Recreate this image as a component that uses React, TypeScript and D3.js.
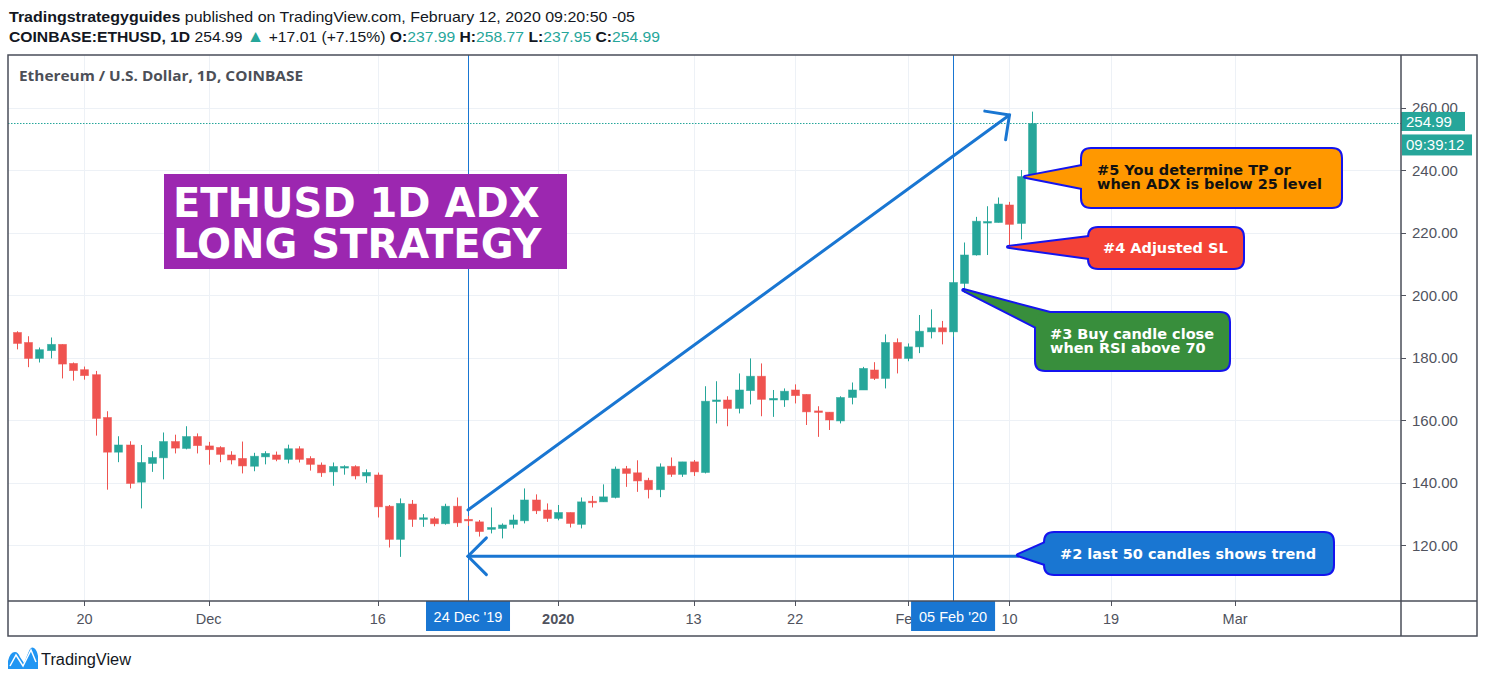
import React from "react";
import * as d3 from "d3";

// ---------------- data ----------------
const firstCandleDate = new Date(Date.UTC(2019, 10, 14));

const openPrices = [
  188.1, 184.9, 179.8, 182.3, 184.3, 178.2, 176.2, 174.6, 160.9, 149.8,
  152.1, 140.2, 146.2, 148.0, 153.2, 151.0, 154.8, 151.8, 151.3, 148.9,
  147.8, 145.3, 148.3, 148.9, 147.5, 150.9, 147.8, 145.7, 143.5, 144.9,
  145.2, 142.2, 142.5, 132.5, 121.9, 133.2, 128.3, 128.5, 126.9, 132.5,
  128.3, 127.5, 125.1, 125.4, 126.7, 127.85, 134.5, 131.3, 128.6, 130.5,
  126.7, 134.1, 133.9, 135.3, 144.5, 143.2, 140.8, 137.8, 145.3, 142.7,
  146.7, 143.3, 166.1, 166.5, 163.8, 169.5, 174.1, 166.5, 166.5, 169.7,
  168.3, 163.0, 162.6, 159.8, 167.3, 169.7, 176.1, 173.4, 184.9, 179.8,
  183.5, 188.3, 189.6, 188.3, 203.8, 212.9, 223.3, 223.3, 228.9, 223.0,
  237.99,
];
const highPrices = [
  188.5, 186.9, 183.3, 186.5, 184.3, 178.5, 177.2, 175.8, 162.9, 154.9,
  153.3, 152.1, 150.1, 156.1, 155.4, 158.1, 155.8, 153.1, 151.7, 150.1,
  153.2, 149.6, 150.1, 150.0, 152.2, 151.7, 148.5, 146.5, 146.5, 145.6,
  145.6, 144.3, 143.3, 132.9, 135.0, 134.5, 130.0, 129.1, 133.3, 135.3,
  129.4, 128.1, 132.1, 127.0, 129.8, 138.2, 136.3, 133.4, 132.9, 130.5,
  135.3, 135.8, 139.5, 145.2, 145.4, 147.2, 141.6, 146.2, 148.1, 146.7,
  147.3, 170.9, 172.5, 167.7, 175.0, 179.8, 178.2, 169.7, 170.2, 171.5,
  168.3, 164.5, 162.6, 167.7, 172.1, 177.1, 178.6, 187.5, 186.2, 184.6,
  193.7, 195.5, 191.8, 208.1, 216.9, 225.1, 228.5, 231.3, 229.9, 240.1,
  258.77,
];
const lowPrices = [
  182.7, 177.0, 178.5, 179.8, 173.4, 172.7, 173.0, 155.1, 137.8, 146.6,
  138.2, 131.8, 143.5, 141.1, 149.4, 150.7, 149.4, 145.8, 146.6, 145.9,
  143.0, 143.7, 145.9, 146.9, 146.2, 146.5, 143.9, 141.9, 139.05, 142.6,
  141.1, 140.0, 128.9, 119.3, 116.3, 125.9, 125.9, 126.1, 126.6, 125.9,
  126.2, 122.8, 123.8, 122.2, 125.4, 127.0, 130.0, 127.5, 128.0, 125.7,
  125.4, 132.1, 133.9, 135.0, 138.7, 137.1, 135.0, 135.4, 141.9, 141.9,
  142.2, 143.0, 159.0, 158.1, 162.2, 165.1, 161.3, 161.1, 164.3, 165.4,
  158.5, 154.7, 156.9, 159.0, 165.1, 169.7, 172.9, 170.2, 175.0, 178.9,
  181.5, 186.2, 184.3, 186.7, 200.8, 212.7, 212.9, 223.3, 216.1, 217.9,
  237.95,
];
const closePrices = [
  184.6, 179.8, 182.6, 184.3, 178.0, 175.9, 174.3, 160.6, 149.8, 152.1,
  139.8, 146.5, 148.1, 153.2, 151.1, 154.8, 151.9, 150.6, 149.1, 147.3,
  145.4, 148.5, 149.4, 147.5, 150.9, 147.5, 145.9, 143.2, 145.2, 145.2,
  142.2, 143.3, 132.3, 121.9, 133.4, 128.3, 128.8, 126.9, 132.5, 127.2,
  127.9, 124.4, 125.7, 126.5, 128.1, 134.5, 131.05, 128.6, 130.5, 127.0,
  133.9, 133.9, 135.5, 144.4, 143.0, 140.6, 137.8, 145.1, 142.7, 146.7,
  143.5, 166.1, 166.5, 163.8, 169.7, 174.1, 166.7, 167.0, 169.3, 167.9,
  162.7, 162.6, 160.1, 167.3, 169.7, 176.6, 173.4, 184.9, 179.8, 183.5,
  188.5, 189.6, 188.3, 204.1, 212.9, 223.7, 223.6, 229.2, 222.7, 237.98,
  254.99,
];

const priceTicks = [120, 140, 160, 180, 200, 220, 240, 260];
const timeTickDates = [
  Date.UTC(2019, 10, 20), Date.UTC(2019, 11, 1), Date.UTC(2019, 11, 16),
  Date.UTC(2020, 0, 1), Date.UTC(2020, 0, 13), Date.UTC(2020, 0, 22),
  Date.UTC(2020, 1, 1), Date.UTC(2020, 1, 10), Date.UTC(2020, 1, 19),
  Date.UTC(2020, 2, 1),
];
const timeTickLabels = ["20", "Dec", "16", "2020", "13", "22", "Feb", "10", "19", "Mar"];
const markerDates = [Date.UTC(2019, 11, 24), Date.UTC(2020, 1, 5)];
const markerLabels = ["24 Dec '19", "05 Feb '20"];
const lastPrice = 254.99;
const countdownLabel = "09:39:12";

// annotation anchors (date, price)
const trendArrowFrom: [number, number] = [Date.UTC(2019, 11, 24), 131.3];
const trendArrowTo: [number, number] = [Date.UTC(2020, 1, 10), 257.7];
const backArrowFrom: [number, number] = [Date.UTC(2020, 1, 10, 18), 116.5];
const backArrowTo: [number, number] = [Date.UTC(2019, 11, 24), 116.5];

const calloutTexts = [
  ["#5 You determine TP or", "when ADX is below 25 level"],
  ["#4 Adjusted SL"],
  ["#3 Buy candle close", "when RSI above 70"],
  ["#2 last 50 candles shows trend"],
];
const calloutTips: [number, number][] = [
  [Date.UTC(2020, 1, 11, 9), 237.9],
  [Date.UTC(2020, 1, 9, 21), 215.5],
  [Date.UTC(2020, 1, 5, 22), 201.7],
  [Date.UTC(2020, 1, 10, 18), 116.9],
];
const calloutFills = ["#ff9800", "#f44336", "#388e3c", "#1976d2"];
const calloutTextColors = ["#111111", "#ffffff", "#ffffff", "#ffffff"];

// ---------------- layout ----------------
const W = 1485;
const H = 682;
const PANE = { left: 8, right: 1401, top: 55, bottom: 601 };
const FRAME = { right: 1477, bottom: 636 };
const UP = "#26a69a";
const DOWN = "#ef5350";
const GRID = "#edf1f6";
const FRAME_C = "#4a4e59";
const AXIS_TXT = "#50535e";
const BLUE = "#1976d2";

const calloutLayout = [
  { box: [1082, 149, 259, 58], base: [[1082, 166], [1082, 188]], tx: 1097, ty: [175, 189.3] },
  { box: [1089, 228, 154, 40], base: [[1089, 237], [1089, 258]], tx: 1103, ty: [252.7] },
  { box: [1036, 313, 193, 57], base: [[1050, 313], [1036, 327]], tx: 1050, ty: [339.3, 353.3] },
  { box: [1045, 533, 288, 41], base: [[1045, 543], [1045, 564]], tx: 1060, ty: [559] },
];

function arms(tip: [number, number], from: [number, number], len: number, deg: number) {
  const dx = from[0] - tip[0];
  const dy = from[1] - tip[1];
  const n = Math.hypot(dx, dy);
  const ux = dx / n, uy = dy / n;
  const a = (deg * Math.PI) / 180;
  const r = (s: number) => [
    tip[0] + len * (ux * Math.cos(s * a) - uy * Math.sin(s * a)),
    tip[1] + len * (ux * Math.sin(s * a) + uy * Math.cos(s * a)),
  ];
  return [r(1), r(-1)];
}

function roundRect(x: number, y: number, w: number, h: number, r: number) {
  return `M${x + r},${y}H${x + w - r}Q${x + w},${y} ${x + w},${y + r}V${y + h - r}Q${x + w},${y + h} ${x + w - r},${y + h}H${x + r}Q${x},${y + h} ${x},${y + h - r}V${y + r}Q${x},${y} ${x + r},${y}Z`;
}

export default function App() {
  const x = d3
    .scaleUtc()
    .domain([new Date(Date.UTC(2019, 10, 13, 5, 17)), new Date(Date.UTC(2020, 2, 15, 14, 53))])
    .range([PANE.left, PANE.right - 1]);
  const y = d3.scaleLinear().domain([120, 260]).range([545.3, 107.8]);

  const candles = openPrices.map((o, i) => ({
    date: d3.utcDay.offset(firstCandleDate, i),
    o,
    h: highPrices[i],
    l: lowPrices[i],
    c: closePrices[i],
  }));

  const pt = (d: [number, number]): [number, number] => [x(new Date(d[0])), y(d[1])];

  const tA = pt(trendArrowFrom);
  const tB = pt(trendArrowTo);
  const trendArms = arms(tB, tA, 25, 45);
  const bA = pt(backArrowFrom);
  const bB = pt(backArrowTo);
  const backArms = arms(bB, bA, 26, 45);

  const yLast = y(lastPrice);
  const font = "'Liberation Sans', Arial, sans-serif";
  const bold = "'DejaVu Sans', Verdana, sans-serif";

  return (
    <svg
      width={W}
      height={H}
      viewBox={`0 0 ${W} ${H}`}
      style={{ position: "absolute", left: 0, top: 0, background: "#fff" }}
    >
      <rect x={0} y={0} width={W} height={H} fill="#fff" />

      {/* header */}
      <text x={9} y={21.5} fontFamily={font} fontSize={15} fill="#131722" textLength={626} lengthAdjust="spacingAndGlyphs">
        <tspan fontWeight="bold">Tradingstrategyguides</tspan>
        {" published on TradingView.com, February 12, 2020 09:20:50 -05"}
      </text>
      <text x={9} y={42} fontFamily={font} fontSize={15} fill="#131722" textLength={651} lengthAdjust="spacingAndGlyphs">
        <tspan fontWeight="bold">COINBASE:ETHUSD, 1D</tspan>
        {" 254.99 "}
        <tspan fill={UP} fontSize={17}>▲</tspan>
        {" +17.01 (+7.15%) "}
        <tspan fontWeight="bold">O:</tspan>
        <tspan fill={UP}>237.99</tspan>
        {" "}
        <tspan fontWeight="bold">H:</tspan>
        <tspan fill={UP}>258.77</tspan>
        {" "}
        <tspan fontWeight="bold">L:</tspan>
        <tspan fill={UP}>237.95</tspan>
        {" "}
        <tspan fontWeight="bold">C:</tspan>
        <tspan fill={UP}>254.99</tspan>
      </text>

      {/* grid */}
      <g stroke={GRID} strokeWidth={1}>
        {priceTicks.map((p) => (
          <line key={p} x1={PANE.left} x2={PANE.right} y1={Math.round(y(p)) + 0.5} y2={Math.round(y(p)) + 0.5} />
        ))}
        {timeTickDates.map((d) => (
          <line key={d} x1={Math.round(x(new Date(d))) + 0.5} x2={Math.round(x(new Date(d))) + 0.5} y1={PANE.top} y2={PANE.bottom} />
        ))}
      </g>

      {/* vertical marker lines */}
      {markerDates.map((d) => (
        <line
          key={d}
          x1={Math.round(x(new Date(d))) + 0.5}
          x2={Math.round(x(new Date(d))) + 0.5}
          y1={PANE.top}
          y2={PANE.bottom}
          stroke={BLUE}
          strokeWidth={1}
        />
      ))}

      {/* last price dotted line */}
      <line x1={PANE.left} x2={PANE.right} y1={Math.round(yLast) + 0.5} y2={Math.round(yLast) + 0.5} stroke={UP} strokeWidth={1} strokeDasharray="1.5 1.5" />

      {/* candles */}
      <g>
        {candles.map((d, i) => {
          const cx = Math.round(x(d.date));
          const col = d.c >= d.o ? UP : DOWN;
          const top = y(Math.max(d.o, d.c));
          const bot = y(Math.min(d.o, d.c));
          return (
            <g key={i}>
              <line x1={cx + 0.5} x2={cx + 0.5} y1={y(d.h)} y2={y(d.l)} stroke={col} strokeWidth={1} />
              <rect x={cx - 3.5} width={8} y={top} height={Math.max(1.5, bot - top)} fill={col} stroke={col} strokeOpacity={0.6} strokeWidth={0.8} />
            </g>
          );
        })}
      </g>

      {/* title box */}
      <rect x={164} y={174} width={403} height={95} fill="#9c27b0" />
      <text x={173} y={217} fontFamily={bold} fontWeight="bold" fontSize={40} fill="#fff">ETHUSD 1D ADX</text>
      <text x={173} y={258} fontFamily={bold} fontWeight="bold" fontSize={40} fill="#fff">LONG STRATEGY</text>

      {/* arrows */}
      <g stroke={BLUE} strokeWidth={3} strokeLinecap="round" fill="none">
        <line x1={tA[0]} y1={tA[1]} x2={tB[0]} y2={tB[1]} />
        <polyline points={`${trendArms[0].join(",")} ${tB.join(",")} ${trendArms[1].join(",")}`} />
        <line x1={bA[0]} y1={bA[1]} x2={bB[0]} y2={bB[1]} />
        <polyline points={`${backArms[0].join(",")} ${bB.join(",")} ${backArms[1].join(",")}`} />
      </g>

      {/* callouts */}
      {calloutLayout.map((c, i) => {
        const [bx, by, bw, bh] = c.box;
        const tip = pt(calloutTips[i]);
        const cx = bx + bw / 2;
        const cy = by + bh / 2;
        const tail = `M${tip[0]},${tip[1]}L${c.base[0][0]},${c.base[0][1]}L${cx},${cy}L${c.base[1][0]},${c.base[1][1]}Z`;
        const rr = roundRect(bx, by, bw, bh, 9);
        return (
          <g key={i}>
            <path d={tail} fill={calloutFills[i]} stroke="#1414ee" strokeWidth={4} strokeLinejoin="round" />
            <path d={rr} fill={calloutFills[i]} stroke="#1414ee" strokeWidth={4} />
            <path d={tail} fill={calloutFills[i]} />
            <path d={rr} fill={calloutFills[i]} />
            {calloutTexts[i].map((t, j) => (
              <text key={j} x={c.tx} y={c.ty[j]} fontFamily={bold} fontWeight="bold" fontSize={14.5} fill={calloutTextColors[i]}>
                {t}
              </text>
            ))}
          </g>
        );
      })}

      {/* pane label */}
      <text x={19} y={81} fontFamily="'Open Sans', sans-serif" fontWeight={700} fontSize={14.5} fill="#4c4f57" textLength={284} lengthAdjust="spacingAndGlyphs">
        Ethereum / U.S. Dollar, 1D, COINBASE
      </text>

      {/* axes background */}
      <rect x={PANE.right} y={PANE.top} width={FRAME.right - PANE.right} height={FRAME.bottom - PANE.top} fill="#fff" />
      <rect x={PANE.left} y={PANE.bottom} width={FRAME.right - PANE.left} height={FRAME.bottom - PANE.bottom} fill="#fff" />

      {/* price axis */}
      <g fontFamily={font} fontSize={15} fill={AXIS_TXT}>
        {priceTicks.map((p) => (
          <g key={p}>
            <line x1={PANE.right} x2={PANE.right + 5} y1={Math.round(y(p)) + 0.5} y2={Math.round(y(p)) + 0.5} stroke={AXIS_TXT} />
            <text x={1412} y={y(p)} dominantBaseline="central">
              {d3.format(".2f")(p)}
            </text>
          </g>
        ))}
      </g>
      <rect x={PANE.right} y={yLast - 11.5} width={64} height={19} fill={UP} />
      <text x={1406} y={yLast - 2} dominantBaseline="central" fontFamily={font} fontSize={15} fill="#fff">
        {d3.format(".2f")(lastPrice)}
      </text>
      <rect x={PANE.right + 1} y={yLast + 11} width={70} height={21} fill={UP} />
      <text x={1406} y={yLast + 21.5} dominantBaseline="central" fontFamily={font} fontSize={15} fill="#fff">
        {countdownLabel}
      </text>

      {/* time axis */}
      <g fontFamily={font} fontSize={14.5} fill={AXIS_TXT}>
        {timeTickDates.map((d, i) => {
          const tx = x(new Date(d));
          return (
            <g key={d}>
              <line x1={Math.round(tx) + 0.5} x2={Math.round(tx) + 0.5} y1={PANE.bottom} y2={PANE.bottom + 5} stroke={AXIS_TXT} />
              <text x={tx} y={619} textAnchor="middle" dominantBaseline="central" fontWeight={timeTickLabels[i] === "2020" ? "bold" : "normal"}>
                {timeTickLabels[i]}
              </text>
            </g>
          );
        })}
      </g>
      {markerDates.map((d, i) => {
        const mx = x(new Date(d));
        return (
          <g key={d}>
            <rect x={mx - 42} y={PANE.bottom} width={84} height={30} fill={BLUE} />
            <text x={mx} y={617} textAnchor="middle" dominantBaseline="central" fontFamily={font} fontSize={14.5} fill="#fff">
              {markerLabels[i]}
            </text>
          </g>
        );
      })}

      {/* frame */}
      <g stroke={FRAME_C} strokeWidth={1.5} fill="none">
        <rect x={PANE.left} y={PANE.top} width={FRAME.right - PANE.left} height={FRAME.bottom - PANE.top} />
        <line x1={PANE.right} x2={PANE.right} y1={PANE.top} y2={FRAME.bottom} />
        <line x1={PANE.left} x2={FRAME.right} y1={PANE.bottom} y2={PANE.bottom} />
      </g>

      {/* logo */}
      <g>
        <path d="M8,669 L8,661 Q10,652 15,652 Q18,652 20,657 L24,663 L29,651 Q31,646 34,648 Q37,650 38,656 L38,669 Z" fill="#2196f3" />
        <polyline points="10,666 16,655 23,666 31,650 36,662" fill="none" stroke="#fff" strokeWidth={1.5} />
        <text x={41} y={665} fontFamily={font} fontSize={16} fill="#131722" textLength={90} lengthAdjust="spacingAndGlyphs">
          TradingView
        </text>
      </g>
    </svg>
  );
}
